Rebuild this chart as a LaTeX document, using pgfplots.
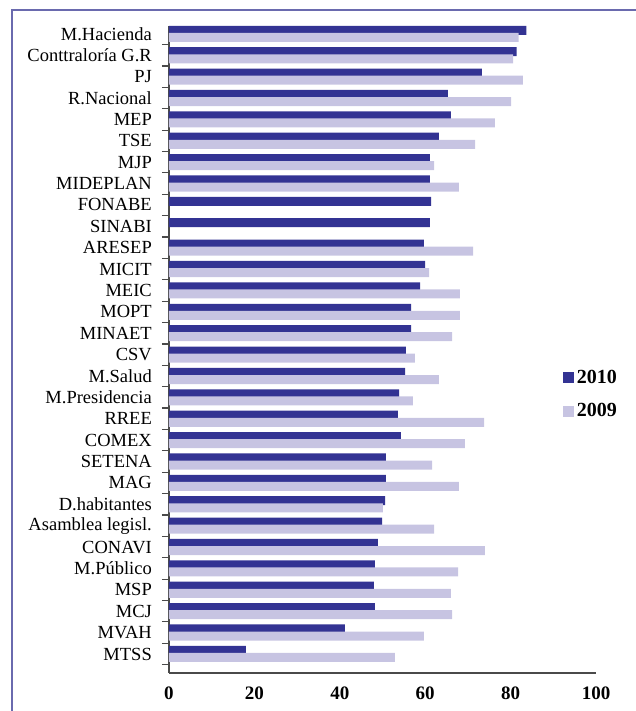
\documentclass[border=0pt]{standalone}
\usepackage{fontspec}
\setmainfont{Liberation Serif}
\usepackage{pgfplots}
\usepackage{pgfplotstable}
\pgfplotsset{compat=1.18}
\definecolor{darkbar}{HTML}{333393}
\definecolor{lightbar}{HTML}{C7C4E2}
\definecolor{framec}{HTML}{6A6AAE}
\definecolor{axisc}{HTML}{4A4A4A}

\pgfplotstableread{
pos v2010 v2009
29 83.7 81.9
28 81.4 80.6
27 73.3 82.9
26 65.3 80.1
25 66.0 76.3
24 63.2 71.7
23 61.1 62.1
22 61.1 67.9
21 61.4 nan
20 61.1 nan
19 59.7 71.2
18 60.0 60.9
17 58.8 68.1
16 56.7 68.1
15 56.7 66.3
14 55.5 57.6
13 55.3 63.2
12 53.9 57.1
11 53.6 73.8
10 54.3 69.3
9 50.8 61.6
8 50.8 67.9
7 50.6 50.1
6 49.9 62.1
5 48.9 74.0
4 48.2 67.7
3 48.0 66.0
2 48.2 66.3
1 41.2 59.7
0 18.0 52.9
}\datatable

\begin{document}
\begin{tikzpicture}
\begin{axis}[
  at={(0pt,0pt)}, anchor=south west,
  scale only axis,
  width=427pt, height=647pt,
  xmin=0, xmax=100,
  ymin=-0.89, ymax=29.37,
  xbar, bar width=9pt,
  axis x line=bottom, axis y line=left,
  axis line style={-, draw=axisc, line width=1.2pt},
  y tick style={draw=axisc, line width=1.2pt},
  major x tick style={draw=none},
  ytick align=outside,
  major tick length=7pt,
  xtick={0,20,40,60,80,100},
  x tick label style={font=\bfseries\fontsize{19}{20}\selectfont, inner sep=0pt, yshift=-10pt},
  /pgf/number format/assume math mode=true,
  ytick={-0.5,0.5,...,28.5},
  yticklabels={MTSS,MVAH,MCJ,MSP,M.Público,CONAVI,Asamblea legisl.,D.habitantes,MAG,SETENA,COMEX,RREE,M.Presidencia,M.Salud,CSV,MINAET,MOPT,MEIC,MICIT,ARESEP,SINABI,FONABE,MIDEPLAN,MJP,TSE,MEP,R.Nacional,PJ,Conttraloría G.R,M.Hacienda},
  y tick label style={font=\fontsize{18.5}{20}\selectfont, inner sep=0pt, xshift=-10pt, yshift=10.69pt},
  legend style={at={(rel axis cs:0.9227,0.431)}, anchor=west, draw=none, fill=none,
    inner sep=0pt, outer sep=0pt, row sep=19pt,
    font=\bfseries\fontsize{20}{20}\selectfont,
    nodes={inner sep=0pt}, column sep=3pt},
  legend cell align=left,
  clip=false,
]
\addplot[fill=darkbar, draw=none, bar shift=3.6pt,
  legend image code/.code={\fill[darkbar] (0pt,-5.5pt) rectangle (11pt,5.5pt);}]
  table[x=v2010, y=pos] {\datatable};
\addlegendentry{2010}
\addplot[fill=lightbar, draw=none, bar shift=-3.5pt,
  legend image code/.code={\fill[lightbar] (0pt,-5.5pt) rectangle (11pt,5.5pt);}]
  table[x=v2009, y=pos] {\datatable};
\addlegendentry{2009}
\end{axis}
\draw[framec, line width=1.6pt] (-157pt,-60pt) rectangle (480pt,663pt);
\pgfresetboundingbox
\path (-169pt,-38pt) rectangle (467pt,673pt);
\end{tikzpicture}
\end{document}
